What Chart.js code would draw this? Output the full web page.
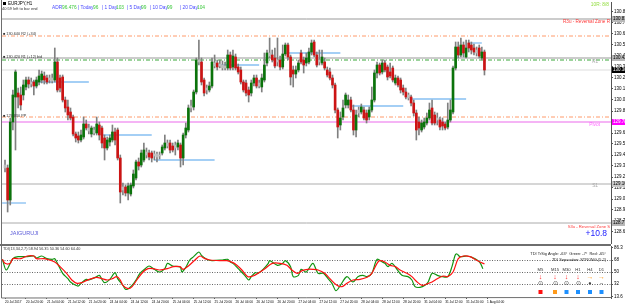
<!DOCTYPE html>
<html>
<head>
<meta charset="utf-8">
<script src="https://cdn.jsdelivr.net/npm/chart.js@4.4.1/dist/chart.umd.min.js"></script>
<style>
  html, body { margin: 0; padding: 0; background: #fff; overflow: hidden; }
  #wrap { position: relative; width: 625px; height: 305px; }
  #main { position: absolute; left: 0; top: 0; }
  #osc { position: absolute; left: 0; top: 244px; }
</style>
</head>
<body>
<div id="wrap">
  <canvas id="main" width="625" height="244"></canvas>
  <canvas id="osc" width="625" height="61"></canvas>
</div>
<script>
// EURJPY H1 candles, 20 Jul 12:00 -> 1 Aug 03:00
const opens = [
  129.35,129.32,129.00,129.78,130.03,130.07,130.05,130.05,130.13,130.20,
  130.16,130.18,130.14,130.18,130.20,130.24,130.22,130.20,130.22,130.20,
  130.38,130.22,130.23,130.00,129.93,129.88,129.83,129.66,129.64,129.60,
  129.63,129.76,129.72,129.66,129.70,129.67,129.75,129.72,129.62,129.52,
  129.58,129.60,129.68,129.70,129.42,129.10,129.13,129.07,129.06,129.14,
  129.22,129.38,129.35,129.40,129.48,129.47,129.47,129.44,129.46,129.44,
  129.47,129.52,129.54,129.57,129.54,129.52,129.53,129.55,129.42,129.65,
  129.70,129.92,129.93,130.08,130.38,130.38,130.20,130.12,130.10,130.14,
  130.37,130.37,130.34,130.35,130.34,130.32,130.45,130.33,130.43,130.33,
  130.30,130.18,130.17,130.10,130.07,130.17,130.22,130.14,130.13,130.20,
  130.37,130.44,130.45,130.42,130.40,130.40,130.33,130.46,130.55,130.43,
  130.30,130.26,130.30,130.47,130.40,130.37,130.38,130.48,130.58,130.45,
  130.38,130.37,130.38,130.30,130.28,130.22,130.15,129.90,129.75,129.83,
  129.95,129.95,130.00,129.90,129.70,129.87,129.88,129.90,129.87,129.83,
  129.90,130.00,130.27,130.35,130.28,130.37,130.33,130.28,130.32,130.17,
  130.22,130.20,130.12,130.08,130.05,130.03,129.97,129.87,129.78,129.70,
  129.73,129.77,129.82,129.92,129.85,129.80,129.80,129.78,129.76,129.73,
  129.80,129.88,130.32,130.53,130.45,130.55,130.43,130.57,130.55,130.52,
  130.50,130.52,130.42,130.48
];
const highs = [
  129.40,129.35,129.82,130.10,130.30,130.12,130.13,130.20,130.23,130.23,
  130.22,130.20,130.23,130.30,130.29,130.28,130.25,130.25,130.26,130.52,
  130.42,130.25,130.25,130.03,130.00,129.92,129.85,129.68,129.68,129.70,
  129.83,129.80,129.76,129.74,129.73,129.83,129.78,129.74,129.65,129.63,
  129.65,129.75,129.72,129.72,129.45,129.17,129.15,129.17,129.17,129.30,
  129.40,129.42,129.50,129.57,129.52,129.50,129.49,129.49,129.48,129.48,
  129.55,129.65,129.60,129.60,129.57,129.58,129.60,129.57,129.67,129.77,
  129.95,130.00,130.10,130.42,130.60,130.42,130.22,130.15,130.18,130.42,
  130.45,130.40,130.40,130.39,130.38,130.50,130.48,130.50,130.46,130.36,
  130.33,130.20,130.20,130.13,130.20,130.25,130.25,130.20,130.26,130.47,
  130.50,130.62,130.50,130.52,130.62,130.44,130.55,130.57,130.57,130.45,
  130.34,130.34,130.40,130.50,130.43,130.47,130.52,130.60,130.60,130.48,
  130.50,130.50,130.42,130.33,130.32,130.25,130.17,129.92,129.88,130.00,
  130.07,130.05,130.03,129.95,129.90,129.93,129.96,129.93,129.90,129.93,
  130.13,130.30,130.38,130.37,130.40,130.40,130.35,130.37,130.34,130.25,
  130.24,130.22,130.15,130.12,130.07,130.05,130.00,129.90,129.83,129.80,
  129.82,129.87,129.97,130.00,129.88,129.87,129.83,129.82,129.78,129.97,
  130.00,130.34,130.58,130.58,130.62,130.58,130.60,130.60,130.58,130.56,
  130.53,130.55,130.53,130.50
];
const lows = [
  129.28,128.88,128.95,129.70,129.50,129.92,129.90,130.00,130.10,130.12,
  130.13,130.05,130.12,130.15,130.17,130.16,130.16,130.17,130.17,130.18,
  130.08,130.08,129.98,129.88,129.80,129.80,129.64,129.58,129.57,129.58,
  129.61,129.70,129.66,129.63,129.65,129.65,129.60,129.52,129.40,129.50,
  129.54,129.58,129.55,129.40,128.97,129.05,129.04,129.00,129.04,129.12,
  129.20,129.30,129.33,129.38,129.42,129.40,129.38,129.40,129.38,129.41,
  129.45,129.50,129.52,129.47,129.48,129.45,129.50,129.33,129.35,129.62,
  129.68,129.88,129.90,130.06,130.35,130.15,130.04,130.06,130.08,130.12,
  130.32,130.30,130.32,130.30,130.30,130.30,130.30,130.30,130.30,130.26,
  130.16,130.08,130.04,129.98,130.04,130.14,130.12,130.12,130.08,130.18,
  130.34,130.42,130.38,130.32,130.34,130.30,130.31,130.44,130.40,130.15,
  130.13,130.22,130.28,130.36,130.27,130.34,130.36,130.45,130.43,130.33,
  130.35,130.35,130.30,130.23,130.20,130.12,129.87,129.62,129.70,129.80,
  129.92,129.92,129.88,129.65,129.63,129.83,129.86,129.80,129.77,129.80,
  129.88,129.98,130.22,130.25,130.26,130.28,130.20,130.22,130.18,130.15,
  130.13,130.07,130.05,130.01,130.00,129.94,129.84,129.60,129.65,129.68,
  129.71,129.75,129.80,129.75,129.75,129.75,129.70,129.70,129.70,129.71,
  129.78,129.86,130.30,130.42,130.43,130.43,130.42,130.48,130.46,130.45,
  130.44,130.42,130.40,130.25
];
const closes = [
  129.32,129.00,129.78,130.05,130.28,130.03,129.95,130.15,130.20,130.16,
  130.18,130.14,130.20,130.24,130.26,130.20,130.18,130.22,130.19,130.38,
  130.10,130.12,130.00,129.92,129.85,129.82,129.66,129.62,129.60,129.65,
  129.76,129.72,129.69,129.72,129.67,129.76,129.65,129.57,129.52,129.60,
  129.62,129.68,129.60,129.42,129.08,129.13,129.07,129.14,129.15,129.26,
  129.38,129.34,129.47,129.50,129.45,129.43,129.42,129.46,129.43,129.45,
  129.53,129.57,129.57,129.50,129.50,129.55,129.57,129.42,129.65,129.72,
  129.92,129.94,130.08,130.40,130.40,130.18,130.07,130.10,130.14,130.38,
  130.34,130.33,130.36,130.32,130.32,130.45,130.32,130.44,130.32,130.28,
  130.18,130.10,130.07,130.05,130.17,130.22,130.14,130.17,130.22,130.35,
  130.47,130.47,130.40,130.34,130.38,130.33,130.46,130.55,130.43,130.23,
  130.26,130.30,130.37,130.38,130.35,130.42,130.48,130.57,130.45,130.35,
  130.40,130.43,130.32,130.25,130.22,130.15,129.90,129.73,129.82,129.92,
  130.05,130.00,129.90,129.70,129.85,129.90,129.93,129.82,129.80,129.90,
  130.00,130.27,130.35,130.27,130.37,130.30,130.23,130.24,130.20,130.22,
  130.15,130.10,130.08,130.03,130.02,129.97,129.87,129.70,129.72,129.77,
  129.78,129.82,129.90,129.77,129.77,129.82,129.73,129.74,129.72,129.80,
  129.90,130.32,130.53,130.45,130.55,130.47,130.52,130.52,130.50,130.48,
  130.47,130.44,130.48,130.30
];

// price axis labels and time labels (every 8 bars)
const priceTicks = [130.88,130.77,130.66,130.55,130.44,130.33,130.22,130.11,130.00,129.89,
  129.78,129.67,129.56,129.45,129.34,129.23,129.12,129.01,128.90,128.79,128.68];
const dateIdx = [0,8,16,24,32,40,48,56,64,72,80,88,96,104,112,120,128,136,144,152,160,168,176,184];
const dateLabels = ['20 Jul 2017','20 Jul 20:00','21 Jul 04:00','21 Jul 12:00','21 Jul 20:00',
  '24 Jul 04:00','24 Jul 12:00','24 Jul 20:00','25 Jul 04:00','25 Jul 12:00','25 Jul 20:00',
  '26 Jul 04:00','26 Jul 12:00','26 Jul 20:00','27 Jul 04:00','27 Jul 12:00','27 Jul 20:00',
  '28 Jul 04:00','28 Jul 12:00','28 Jul 20:00','31 Jul 04:00','31 Jul 12:00','31 Jul 20:00','1 Aug 04:00'];

// pivot levels: R3u, R2, R1 (gray), R1 (green), PP, Pivot, S1, S3u
const levelPrices = [130.81, 130.64, 130.42, 130.40, 129.83, 129.78, 129.16, 128.77];
// short light blue support/resistance segments
const segStart = [-1.1, 10, 37, 57, 79, 108, 132, 155, 177];
const segEnd   = [8, 32, 56, 80, 97, 128, 152, 176, 182];
const segPrice = [128.97, 130.18, 129.65, 129.40, 130.35, 130.47, 129.94, 130.01, 130.57];

// TDI lines (bar index, value)
const greenX = [-1,0.5,3,5,8,11,12,14,16,18,19,20,22,24,25,27,28,29,31,32,35,36,37,38,40,42,43,45,46,47,
  48.5,50,51.5,53.5,55,57,59,61,62,64,66,67,67.5,69,70.5,72,74,75,77,79,83,85,86,87,89,91.5,93,94,95.5,96.5,
  98.5,100.5,101,104,106,107,109,110,112,113,115,117.5,119.5,121.5,123.3,124.8,126.3,128,130.5,132.8,134.7,136.6,138.2,140,142,144,145,146.2,147.7,149.6,
  151.5,153.8,155.3,156.5,158.4,160.3,161.5,163,165,167,169,170.6,171.8,172.5,173.7,176.3,178.2,180.2,181.3,182.4];
const greenV = [69,53,70,73,73,74,71,74,70,69,70,63,48,40,35,30,29,33,39,38,43,45,39,34,39,49,40,30,24,25,
  30,38,48,55,59,54,50,55,63,59,58,57,50,57,68,73,80,75,69,67,68,69,65,63,55,45,38,43,49,48,
  54,63,67,60,63,67,58,43,45,54,50,63,48,48,40,33,22,30,43,35,43,45,43,48,69,65,63,58,63,54,
  45,43,38,28,27,30,35,48,45,43,43,58,75,77,73,74,72,68,64,55];
const redX = [-1,0,2,3,6,8.5,11,12,15,17,19,21,23.5,25.5,27.5,29.3,31,33,35,37,39,41,42.6,44,45,47,48.5,50.3,52.7,54.6,
  56.5,59,62,64.3,66.8,68,70,72.5,74.4,76.3,78.2,82,84.7,87,88.5,90.4,92.7,94.7,96.6,99.2,102,105,107.6,109.5,111.5,113.4,115.5,117.6,119.5,122,
  124,126.7,128.6,130.5,132.8,135.5,138.2,140,142,143,145,147,149,150.8,153.4,155.3,157.3,159.2,161,163,165,167.2,169,171,173,175,177.5,179.4,181.3,183];
const redV = [69,63,63,70,70,74,74,70,70,68,65,58,48,38,33,34,37,40,42,40,38,40,43,38,30,25,28,38,50,55,
  55,53,55,58,58,54,59,68,74,70,68,67,67,64,60,53,43,44,48,55,63,63,60,53,48,52,54,54,53,48,
  40,30,28,33,38,39,42,48,63,67,65,60,58,53,48,43,35,30,32,35,40,44,43,50,70,74,73,69,65,62];
const oscTicks = [86.3, 68, 50, 32, 13.6];
const oscLevels = [68, 50, 32];

// MTF signal panel
const sigTF = ['M5','M15','M30','H1','H4','D1'];
const sigArrow = ['↓','↓','↓','↓','→','→'];
const sigDot = ['⊙','⊙','⊙','⊙','●','–'];

const X_MIN = -1.15, X_MAX = 231.3;
const TXT = 'Liberation Sans';

function idx(arr) { return arr.map((_, i) => i); }

const levelStyles = [
  { c: '#999999', w: 1, d: [] },
  { c: '#ff9a6a', w: 1, d: [4, 2, 1, 2] },
  { c: '#999999', w: 1, d: [] },
  { c: '#3aa83a', w: 1, d: [4, 2, 1, 2] },
  { c: '#ff9a6a', w: 1, d: [4, 2, 1, 2] },
  { c: '#f5b4f5', w: 2, d: [] },
  { c: '#d6d6d6', w: 2, d: [] },
  { c: '#aaaaaa', w: 1, d: [] }
];

const datasets = [];
// bodies
datasets.push({
  type: 'bar', order: 0, grouped: false, barThickness: 2, minBarLength: 1,
  data: idx(opens).map(i => ({ x: i, y: [opens[i], closes[i]] })),
  backgroundColor: ctx => {
    const i = ctx.dataIndex;
    const d = closes[i] - opens[i];
    if (Math.abs(d) <= 0.035) return '#bdbdbd';
    return d > 0 ? '#0b730b' : '#cc1414';
  }
});
// wicks
datasets.push({
  type: 'bar', order: 1, grouped: false, barThickness: 1,
  data: idx(lows).map(i => ({ x: i, y: [lows[i], highs[i]] })),
  backgroundColor: '#808080'
});
// blue segments
segPrice.forEach((p, k) => {
  datasets.push({
    type: 'line', order: 2, borderColor: '#86bff2', borderWidth: 1.3, pointRadius: 0,
    data: [{ x: segStart[k], y: p }, { x: segEnd[k], y: p }]
  });
});
// pivot level lines
levelPrices.forEach((p, k) => {
  const s = levelStyles[k];
  datasets.push({
    type: 'line', order: 3, borderColor: s.c, borderWidth: s.w, borderDash: s.d, pointRadius: 0,
    data: [{ x: X_MIN, y: p }, { x: X_MAX, y: p }]
  });
});
// current price line
const lastClose = closes[closes.length - 1];
datasets.push({
  type: 'line', order: 4, borderColor: '#dddddd', borderWidth: 1, pointRadius: 0,
  data: [{ x: X_MIN, y: lastClose }, { x: X_MAX, y: lastClose }]
});

function txt(ctx, s, x, y, color, size, align, weight) {
  ctx.font = (weight || 'normal') + ' ' + size + 'px ' + TXT;
  ctx.fillStyle = color;
  ctx.textAlign = align || 'left';
  ctx.textBaseline = 'middle';
  ctx.fillText(s, x, y);
}

const mainDecor = {
  id: 'mainDecor',
  afterDraw(chart) {
    const { ctx, chartArea: a } = chart;
    const y = chart.scales.y;
    ctx.save();
    ctx.strokeStyle = '#6e6e6e';
    ctx.lineWidth = 1;
    ctx.beginPath();
    ctx.moveTo(a.left - 0.5, 0);
    ctx.lineTo(a.left - 0.5, chart.height);
    ctx.stroke();

    // highlighted price labels on the axis
    const boxes = [
      [levelPrices[0], '#b8b8b8', '#000'],
      [levelPrices[2], '#b8b8b8', '#000'],
      [levelPrices[5], '#ff00ff', '#fff'],
      [levelPrices[6], '#c8c8c8', '#000'],
      [levelPrices[7], '#b8b8b8', '#000'],
      [lastClose, '#000000', '#fff']
    ];
    boxes.forEach(([p, bg, fg]) => {
      const py = y.getPixelForValue(p);
      ctx.fillStyle = bg;
      ctx.fillRect(a.right + 1, py - 3, 14, 6);
      txt(ctx, p.toFixed(3), a.right + 2, py, fg, 4.5);
    });

    // header texts
    ctx.fillStyle = '#000';
    ctx.fillRect(3, 2, 3, 3);
    txt(ctx, 'EURJPY,H1', 8, 3.5, '#000', 4.5);
    txt(ctx, '40:59 left to bar end', 2, 9, '#333', 4);
    const hdr = [
      ['ADR', 52, '#4a4aff'], ['96.476', 62, '#3cc83c'],
      ['| Today', 78, '#4a4aff'], ['96', 93, '#3cc83c'],
      ['| 1 Day', 102, '#4a4aff'], ['103', 116, '#3cc83c'],
      ['| 5 Day', 127, '#4a4aff'], ['99', 141, '#3cc83c'],
      ['| 10 Day', 150, '#4a4aff'], ['99', 167, '#3cc83c'],
      ['| 20 Day', 180, '#4a4aff'], ['104', 197, '#3cc83c']
    ];
    hdr.forEach(([s, x, c]) => txt(ctx, s, x, 7.5, c, 4.8));
    txt(ctx, '10R: 8/8', 609, 5, '#8fdc3a', 4.8, 'right');

    // level annotations
    const lp = p => y.getPixelForValue(p);
    txt(ctx, '■ 130.640 R2 (+34)', 3, lp(levelPrices[1]) - 2, '#333', 3.8);
    txt(ctx, '■ 130.420 R1 (+12) bid', 3, lp(levelPrices[2]) - 1.5, '#333', 3.8);
    txt(ctx, '■ 129.830 PP', 3, lp(levelPrices[4]) - 1.5, '#333', 3.8);
    txt(ctx, 'R3u - Reversal Zone R', 610, lp(levelPrices[0]) + 2.5, '#ff3a3a', 4.6, 'right');
    txt(ctx, 'R1', 598, lp(levelPrices[3]) + 2, '#a8a8a8', 4.6, 'right');
    txt(ctx, 'Pivot', 600, lp(levelPrices[5]) + 2.5, '#ff66ff', 4.8, 'right');
    txt(ctx, 'S1', 598, lp(levelPrices[6]) + 2, '#a8a8a8', 4.8, 'right');
    txt(ctx, 'S3u - Reversal Zone S', 610, lp(levelPrices[7]) + 4, '#ff3a3a', 4.2, 'right');
    txt(ctx, '+10.8', 607, 234, '#2020ff', 8.5, 'right');
    txt(ctx, 'JAIGURUJI', 10, 233.5, '#5a5ad8', 5.5);
    ctx.restore();
  }
};

new Chart(document.getElementById('main'), {
  type: 'bar',
  data: { datasets },
  options: {
    responsive: false,
    animation: false,
    layout: { padding: { left: 2, top: 2, right: 0, bottom: 1 } },
    plugins: { legend: { display: false }, tooltip: { enabled: false } },
    scales: {
      x: { type: 'linear', min: X_MIN, max: X_MAX, offset: false, display: false },
      y: {
        position: 'right', min: 128.57, max: 130.98, beginAtZero: false,
        afterBuildTicks: s => { s.ticks = priceTicks.map(v => ({ value: v })); },
        afterFit: s => { s.width = 14; s.paddingTop = 0; s.paddingBottom = 0; },
        ticks: { callback: v => Number(v).toFixed(3), font: { family: TXT, size: 4.5 }, color: '#000', padding: 1 },
        grid: { drawOnChartArea: false, tickLength: 2, color: '#555' },
        border: { color: '#555' }
      }
    }
  },
  plugins: [mainDecor]
});

const oscDecor = {
  id: 'oscDecor',
  beforeDatasetsDraw(chart) {
    const { ctx, chartArea: a } = chart;
    const y = chart.scales.y;
    ctx.save();
    ctx.strokeStyle = '#666';
    ctx.lineWidth = 1;
    ctx.setLineDash([1, 1.5]);
    oscLevels.forEach(v => {
      const py = Math.round(y.getPixelForValue(v)) + 0.5;
      ctx.beginPath();
      ctx.moveTo(a.left, py);
      ctx.lineTo(a.right, py);
      ctx.stroke();
    });
    ctx.restore();
  },
  afterDraw(chart) {
    const { ctx, chartArea: a } = chart;
    ctx.save();
    ctx.strokeStyle = '#6e6e6e';
    ctx.lineWidth = 2;
    ctx.beginPath();
    ctx.moveTo(0, 1);
    ctx.lineTo(a.right, 1);
    ctx.stroke();
    ctx.lineWidth = 1;
    ctx.beginPath();
    ctx.moveTo(a.left - 0.5, 0);
    ctx.lineTo(a.left - 0.5, a.bottom);
    ctx.lineTo(a.right, a.bottom - 0.5);
    ctx.stroke();

    txt(ctx, 'TDI(13,34,2,7) 58.94 56.35 50.36 54.60 64.40', 3, 5, '#333', 3.8);
    txt(ctx, 'TDI TrSig Angle: -63°  Green: -7°  Red: -65°', 606, 9.5, '#222', 3.9, 'right');
    txt(ctx, 'TDI Separation: STRONG (5.2)', 606, 15.5, '#222', 3.9, 'right');
    const cols = [540.5, 555, 566.5, 578, 590, 601.5];
    const arrowC = ['#ff1a1a', '#ff1a1a', '#ff1a1a', '#ff1a1a', '#ff9a1a', '#ff9a1a'];
    const boxC = ['#ff1010', '#ff9a1a', '#1e90ff', '#1e90ff', '#1e90ff', '#1e90ff'];
    sigTF.forEach((tf, k) => {
      const cx = cols[k];
      txt(ctx, tf, cx, 26, '#333', 4.2, 'center');
      txt(ctx, sigArrow[k], cx, 33, arrowC[k], 7, 'center', 'bold');
      txt(ctx, sigDot[k], cx, 39.5, '#444', 5.5, 'center');
      ctx.fillStyle = boxC[k];
      ctx.fillRect(cx - 2, 46, 4, 4);
    });
    ctx.restore();
  }
};

new Chart(document.getElementById('osc'), {
  type: 'line',
  data: {
    datasets: [
      { label: 'Signal', order: 0, data: redX.map((x, k) => ({ x, y: redV[k] })),
        borderColor: '#ff1010', borderWidth: 1.2, pointRadius: 0, tension: 0.3 },
      { label: 'Price', order: 1, data: greenX.map((x, k) => ({ x, y: greenV[k] })),
        borderColor: '#139413', borderWidth: 1.2, pointRadius: 0, tension: 0.3 }
    ]
  },
  options: {
    responsive: false,
    animation: false,
    layout: { padding: { left: 2, top: 2, right: 0, bottom: 0 } },
    plugins: { legend: { display: false }, tooltip: { enabled: false } },
    scales: {
      x: {
        type: 'linear', min: X_MIN, max: X_MAX,
        afterBuildTicks: s => { s.ticks = dateIdx.map(v => ({ value: v })); },
        afterFit: s => { s.height = 7; s.paddingLeft = 0; s.paddingRight = 0; },
        ticks: { callback: (v, i) => dateLabels[i], align: 'start', autoSkip: false, maxRotation: 0, minRotation: 0,
          font: { family: TXT, size: 3.2 }, color: '#000', padding: 1 },
        grid: { drawOnChartArea: false, tickLength: 1, color: '#555' },
        border: { display: false }
      },
      y: {
        position: 'right', min: 11, max: 89,
        afterBuildTicks: s => { s.ticks = oscTicks.map(v => ({ value: v })); },
        afterFit: s => { s.width = 14; s.paddingTop = 0; s.paddingBottom = 0; },
        ticks: { callback: v => String(v), font: { family: TXT, size: 4.5 }, color: '#000', padding: 1 },
        grid: { drawOnChartArea: false, tickLength: 2, color: '#555' },
        border: { color: '#555' }
      }
    }
  },
  plugins: [oscDecor]
});
</script>
</body>
</html>
